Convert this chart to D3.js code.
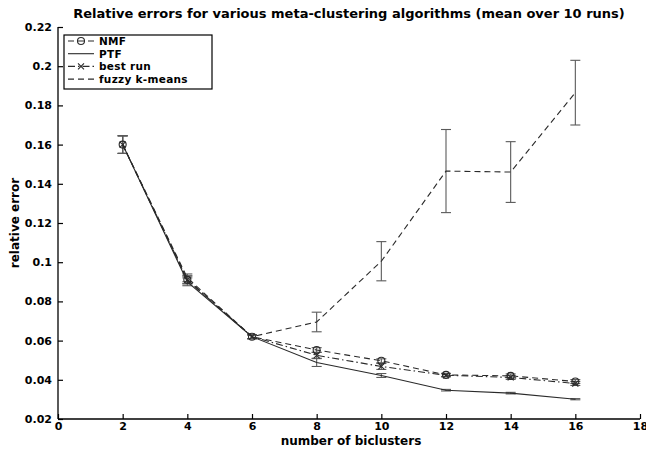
<!DOCTYPE html>
<html><head><meta charset="utf-8">
<script src="https://cdn.jsdelivr.net/npm/d3@7/dist/d3.min.js"></script>
<style>body{margin:0;background:#fff}svg{display:block}text{font-family:"DejaVu Sans",Arial,sans-serif;font-weight:bold}</style>
</head><body><svg id="c" width="646" height="453"></svg>
<script>
const xs = [2, 4, 6, 8, 10, 12, 14, 16];
const nmfMean = [0.160, 0.091, 0.062, 0.0552, 0.0497, 0.0425, 0.0420, 0.0391];
const nmfErr  = [0.0045, 0.002, 0.001, 0.0012, 0.0010, 0.0008, 0.0010, 0.0010];
const ptfMean = [0.160, 0.090, 0.062, 0.0488, 0.0422, 0.0347, 0.0332, 0.0301];
const ptfErr  = [0.0045, 0.002, 0.001, 0.0020, 0.0010, 0.0004, 0.0004, 0.0003];
const bestMean = [0.160, 0.091, 0.062, 0.0525, 0.0468, 0.0423, 0.0412, 0.0381];
const bestErr  = [0.0045, 0.002, 0.001, 0.0015, 0.0015, 0.0008, 0.0010, 0.0010];
const fuzzyMean = [0.160, 0.092, 0.062, 0.0695, 0.1005, 0.1465, 0.1460, 0.1865];
const fuzzyErr  = [0.0045, 0.002, 0.001, 0.0050, 0.0100, 0.0212, 0.0155, 0.0165];
const xTicks = [0, 2, 4, 6, 8, 10, 12, 14, 16, 18];
const yTicks = [0.02, 0.04, 0.06, 0.08, 0.1, 0.12, 0.14, 0.16, 0.18, 0.2, 0.22];
const legendNames = ["NMF", "PTF", "best run", "fuzzy k-means"];

const svg = d3.select("#c");
const x = d3.scaleLinear().domain([0, 18]).range([58, 640]);
const y = d3.scaleLinear().domain([0.02, 0.22]).range([419, 27]);

const lineCol = "#2a2a2a", errCol = "#5a5a5a";
const FONT = '"DejaVu Sans",Arial,sans-serif';

const series = [
  {name: legendNames[0], mean: nmfMean, err: nmfErr, dash: "6,4", marker: "circle"},
  {name: legendNames[1], mean: ptfMean, err: ptfErr, dash: null, marker: null},
  {name: legendNames[2], mean: bestMean, err: bestErr, dash: "7,3,1.5,3", marker: "x"},
  {name: legendNames[3], mean: fuzzyMean, err: fuzzyErr, dash: "6,4", marker: null}
];

// axes
const xAxis = d3.axisBottom(x).tickValues(xTicks).tickSize(-5).tickPadding(3).tickFormat(d3.format("d"));
const yAxis = d3.axisLeft(y).tickValues(yTicks).tickSize(-5).tickPadding(6).tickFormat(d => String(+d.toFixed(2)));
const gx = svg.append("g").attr("transform", "translate(0,419)").call(xAxis);
const gy = svg.append("g").attr("transform", "translate(58,0)").call(yAxis);
[gx, gy].forEach(g => {
  g.select(".domain").attr("stroke", "#000").attr("stroke-width", 1.3);
  g.selectAll(".tick line").attr("stroke", "#000").attr("stroke-width", 1.2);
  g.selectAll(".tick text").attr("fill", "#000").style("font-size", "11px").style("font-weight", "bold").style("font-family", FONT);
});
gx.select(".domain").attr("d", "M58,0H640");
gy.select(".domain").attr("d", "M0,27V419");

// error bars
series.forEach(s => {
  const g = svg.append("g").attr("stroke", errCol).attr("stroke-width", 1.1).attr("fill", "none");
  xs.forEach((xv, i) => {
    const cx = x(xv), top = y(s.mean[i] + s.err[i]), bot = y(s.mean[i] - s.err[i]);
    g.append("line").attr("x1", cx).attr("x2", cx).attr("y1", top).attr("y2", bot);
    g.append("line").attr("x1", cx - 5).attr("x2", cx + 5).attr("y1", top).attr("y2", top);
    g.append("line").attr("x1", cx - 5).attr("x2", cx + 5).attr("y1", bot).attr("y2", bot);
  });
});

// lines
const line = d3.line().x((d, i) => x(xs[i])).y(d => y(d));
series.forEach(s => {
  svg.append("path").attr("d", line(s.mean)).attr("fill", "none")
    .attr("stroke", lineCol).attr("stroke-width", 1.1)
    .attr("stroke-dasharray", s.dash);
});

function drawMarker(g, type, cx, cy) {
  if (type === "circle") {
    g.append("circle").attr("cx", cx).attr("cy", cy).attr("r", 3.5)
      .attr("fill", "none").attr("stroke", lineCol).attr("stroke-width", 1.1);
  } else if (type === "x") {
    const r = 3;
    g.append("path").attr("d", `M${cx-r},${cy-r}L${cx+r},${cy+r}M${cx-r},${cy+r}L${cx+r},${cy-r}`)
      .attr("stroke", lineCol).attr("stroke-width", 1.1);
  }
}
series.forEach(s => {
  if (!s.marker) return;
  const g = svg.append("g");
  xs.forEach((xv, i) => drawMarker(g, s.marker, x(xv), y(s.mean[i])));
});

// legend
const lg = svg.append("g");
lg.append("rect").attr("x", 64).attr("y", 35).attr("width", 148).attr("height", 54)
  .attr("fill", "#fff").attr("stroke", "#000").attr("stroke-width", 1.2);
series.forEach((s, i) => {
  const ly = 41 + i * 12.7;
  lg.append("line").attr("x1", 68).attr("x2", 94).attr("y1", ly).attr("y2", ly)
    .attr("stroke", lineCol).attr("stroke-width", 1.1).attr("stroke-dasharray", s.dash);
  if (s.marker) drawMarker(lg, s.marker, 81, ly);
  lg.append("text").attr("x", 99).attr("y", ly + 3.8).attr("font-size", "10.5px")
    .attr("letter-spacing", "0.3px").text(s.name);
});

// title & labels
svg.append("text").attr("x", 349).attr("y", 18).attr("text-anchor", "middle")
  .attr("font-size", "13px").text("Relative errors for various meta-clustering algorithms (mean over 10 runs)");
svg.append("text").attr("x", 351).attr("y", 445).attr("text-anchor", "middle")
  .attr("font-size", "12px").text("number of biclusters");
svg.append("text").attr("transform", "translate(19,223) rotate(-90)").attr("text-anchor", "middle")
  .attr("font-size", "12px").text("relative error");
</script></body></html>
